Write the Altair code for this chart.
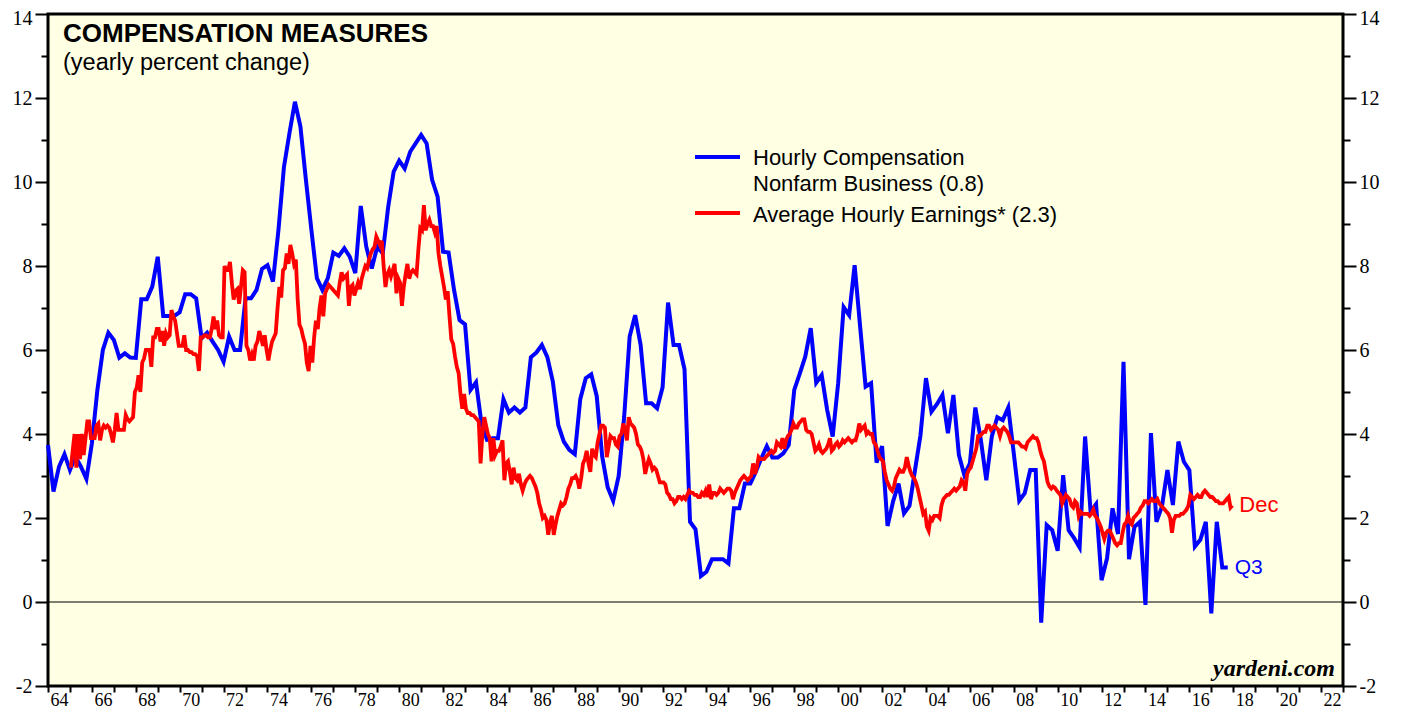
import altair as alt
import pandas as pd

# ---------------- data ----------------
# Hourly Compensation, Nonfarm Business (yearly % change), quarterly, first point plotted at 1964.0
hc_start = 1964
hourly_comp = [
    3.74, 2.63, 3.22, 3.52,
    3.14, 3.46, 3.22, 2.93,
    3.78, 5.05, 6.00, 6.41,
    6.24, 5.82, 5.92, 5.82,
    5.81, 7.21, 7.21, 7.51,
    8.22, 6.81, 6.81, 6.81,
    6.90, 7.33, 7.33, 7.23,
    6.28, 6.41, 6.20, 6.00,
    5.72, 6.32, 6.00, 6.00,
    7.23, 7.23, 7.43, 7.93,
    8.02, 7.63, 8.86, 10.36,
    11.16, 11.91, 11.32, 10.05,
    8.86, 7.71, 7.43, 7.71,
    8.32, 8.24, 8.42, 8.22,
    7.83, 9.43, 8.46, 7.94,
    8.46, 8.30, 9.41, 10.25,
    10.51, 10.32, 10.72, 10.92,
    11.12, 10.92, 10.05, 9.65,
    8.34, 8.32, 7.43, 6.71,
    6.61, 5.05, 5.23, 4.25,
    3.86, 3.90, 3.90, 4.83,
    4.51, 4.63, 4.51, 4.63,
    5.83, 5.94, 6.12, 5.83,
    5.25, 4.21, 3.82, 3.62,
    3.52, 4.83, 5.33, 5.42,
    4.90, 3.46, 2.73, 2.41,
    3.00, 4.41, 6.32, 6.83,
    6.12, 4.73, 4.73, 4.61,
    5.11, 7.13, 6.12, 6.12,
    5.54, 1.91, 1.73, 0.62,
    0.72, 1.02, 1.02, 1.02,
    0.92, 2.23, 2.23, 2.82,
    2.82, 3.10, 3.42, 3.71,
    3.44, 3.44, 3.54, 3.74,
    5.05, 5.44, 5.84, 6.52,
    5.22, 5.40, 4.57, 3.94,
    5.21, 7.02, 6.83, 8.02,
    6.56, 5.13, 5.21, 3.32,
    3.71, 1.81, 2.39, 2.82,
    2.11, 2.29, 3.14, 3.97,
    5.33, 4.53, 4.71, 4.93,
    4.02, 4.93, 3.50, 3.02,
    3.30, 4.63, 3.86, 2.90,
    3.94, 4.40, 4.33, 4.63,
    3.54, 2.41, 2.59, 3.14,
    3.14, -0.49, 1.83, 1.71,
    1.22, 3.02, 1.71, 1.52,
    1.30, 3.94, 2.15, 2.33,
    0.52, 1.04, 2.23, 1.62,
    5.72, 1.02, 1.79, 1.91,
    -0.07, 4.02, 1.91, 2.27,
    3.14, 2.31, 3.82, 3.34,
    3.14, 1.32, 1.48, 1.91,
    -0.27, 1.91, 0.82, 0.82,
]

# Average Hourly Earnings (yearly % change), monthly Jan 1965 - Dec 2017
ahe_start = 1965
ahe_by_year = [
    [3.2, 3.6, 4.0, 3.2, 4.0, 3.4, 4.0, 3.5, 3.9, 4.3, 4.3, 3.9],
    [3.9, 3.9, 4.2, 4.25, 3.85, 4.1, 4.2, 4.15, 4.2, 4.15, 4.0, 3.8],
    [4.1, 4.5, 4.1, 4.1, 4.1, 4.1, 4.45, 4.35, 4.3, 4.35, 4.4, 5.0],
    [5.1, 5.4, 5.0, 5.7, 5.8, 6.0, 6.0, 6.0, 5.6, 6.3, 6.3, 6.5],
    [6.5, 6.2, 6.45, 6.1, 6.4, 6.3, 6.35, 6.95, 6.8, 6.7, 6.4, 6.1],
    [6.1, 6.1, 6.35, 6.0, 6.0, 5.95, 5.95, 5.9, 5.9, 5.85, 5.5, 6.3],
    [6.3, 6.35, 6.35, 6.3, 6.3, 6.5, 6.8, 6.5, 6.7, 6.35, 6.3, 6.3],
    [8.0, 7.9, 7.9, 8.1, 7.6, 7.2, 7.4, 7.45, 7.1, 7.5, 7.9, 7.85],
    [6.1, 6.0, 5.75, 5.9, 5.75, 6.1, 6.2, 6.45, 6.3, 6.1, 6.35, 6.0],
    [5.75, 6.0, 6.2, 6.3, 6.4, 7.0, 7.5, 7.25, 7.9, 7.95, 8.3, 8.05],
    [8.5, 8.3, 8.05, 8.15, 7.2, 6.6, 6.5, 6.3, 6.15, 5.7, 5.5, 6.1],
    [5.7, 6.3, 6.7, 6.5, 7.0, 7.3, 6.8, 7.35, 7.45, 7.55, 7.5, 7.45],
    [7.4, 7.35, 7.3, 7.6, 7.85, 7.7, 7.75, 7.8, 7.05, 7.5, 7.55, 7.3],
    [7.45, 7.6, 7.45, 7.7, 7.85, 8.0, 7.95, 8.15, 8.3, 8.4, 8.45, 8.7],
    [8.6, 8.5, 8.6, 8.0, 7.5, 7.8, 7.9, 7.75, 7.9, 8.05, 7.35, 7.7],
    [7.6, 7.05, 7.5, 7.8, 8.05, 7.7, 7.85, 7.9, 7.85, 7.8, 8.4, 8.9],
    [8.85, 9.45, 8.85, 9.0, 9.1, 8.95, 8.95, 8.8, 8.95, 8.3, 8.0, 7.75],
    [7.5, 7.2, 7.4, 6.8, 6.25, 6.15, 5.85, 5.6, 5.45, 4.95, 4.6, 4.95],
    [4.6, 4.5, 4.5, 4.45, 4.45, 4.4, 4.35, 4.3, 3.3, 4.0, 4.4, 4.2],
    [4.0, 3.9, 3.35, 3.9, 3.5, 3.6, 3.6, 3.7, 3.85, 2.9, 3.3, 3.35],
    [3.1, 2.8, 3.2, 2.95, 2.9, 3.05, 2.8, 2.65, 2.8, 2.9, 2.95, 3.0],
    [2.95, 2.85, 2.75, 2.6, 2.35, 2.2, 2.0, 2.05, 1.95, 1.6, 1.9, 2.05],
    [1.6, 1.85, 2.05, 2.2, 2.35, 2.3, 2.35, 2.5, 2.7, 2.8, 2.95, 2.95],
    [3.0, 2.9, 2.7, 2.95, 3.3, 3.4, 3.6, 3.3, 3.1, 3.65, 3.5, 3.45],
    [3.8, 4.0, 4.2, 4.2, 4.15, 3.45, 3.7, 3.95, 3.9, 3.9, 3.75, 3.7],
    [3.95, 4.0, 4.25, 4.1, 3.85, 4.4, 4.25, 4.2, 4.15, 4.0, 3.75, 3.7],
    [3.6, 3.4, 3.05, 3.25, 3.4, 3.3, 3.15, 3.2, 3.15, 3.0, 2.85, 2.85],
    [2.85, 2.8, 2.6, 2.55, 2.45, 2.45, 2.35, 2.4, 2.5, 2.5, 2.45, 2.5],
    [2.45, 2.55, 2.65, 2.6, 2.6, 2.55, 2.55, 2.5, 2.5, 2.6, 2.55, 2.65],
    [2.5, 2.8, 2.45, 2.6, 2.6, 2.55, 2.6, 2.7, 2.65, 2.6, 2.65, 2.7],
    [2.7, 2.65, 2.45, 2.6, 2.7, 2.8, 2.9, 2.95, 3.0, 2.95, 2.9, 2.95],
    [3.0, 3.3, 3.05, 3.2, 3.45, 3.4, 3.4, 3.4, 3.45, 3.5, 3.55, 3.6],
    [3.55, 3.6, 3.8, 3.75, 3.7, 3.9, 3.65, 3.85, 3.95, 4.0, 4.1, 4.25],
    [4.15, 4.15, 4.25, 4.3, 4.35, 4.35, 4.1, 4.05, 4.05, 4.0, 3.8, 3.6],
    [3.65, 3.75, 3.6, 3.55, 3.6, 3.65, 3.75, 3.9, 3.6, 3.65, 3.75, 3.8],
    [3.7, 3.75, 3.85, 3.8, 3.85, 3.9, 3.85, 3.8, 3.85, 3.85, 4.0, 4.25],
    [4.1, 4.15, 4.2, 4.0, 4.05, 4.0, 4.0, 3.8, 3.75, 3.6, 3.45, 3.4],
    [3.35, 3.1, 2.9, 2.8, 2.7, 2.65, 2.75, 2.95, 3.05, 3.15, 3.1, 3.1],
    [3.2, 3.45, 3.25, 3.1, 3.0, 2.95, 2.85, 2.7, 2.5, 2.3, 2.1, 2.15],
    [1.8, 1.7, 2.0, 1.95, 2.05, 2.05, 2.05, 2.0, 2.3, 2.45, 2.5, 2.55],
    [2.55, 2.6, 2.65, 2.7, 2.65, 2.7, 2.75, 2.9, 2.85, 2.65, 3.05, 3.15],
    [3.2, 3.35, 3.5, 3.65, 3.95, 3.95, 4.0, 4.05, 4.05, 4.2, 4.2, 4.1],
    [4.15, 4.2, 4.15, 4.1, 3.95, 4.1, 4.15, 4.1, 4.05, 3.95, 3.8, 3.8],
    [3.8, 3.8, 3.8, 3.75, 3.7, 3.7, 3.66, 3.8, 3.85, 3.9, 3.95, 3.9],
    [3.9, 3.8, 3.6, 3.45, 3.35, 3.1, 2.85, 2.75, 2.7, 2.75, 2.72, 2.65],
    [2.6, 2.55, 2.35, 2.45, 2.55, 2.5, 2.45, 2.3, 2.25, 2.4, 2.35, 2.05],
    [2.15, 2.1, 2.1, 2.1, 2.1, 2.05, 2.1, 2.2, 2.05, 2.0, 1.9, 1.8],
    [1.65, 1.5, 1.65, 1.7, 1.7, 1.6, 1.5, 1.4, 1.35, 1.4, 1.4, 1.65],
    [1.85, 1.9, 2.05, 1.9, 1.85, 2.0, 2.05, 2.1, 2.15, 2.25, 2.3, 2.4],
    [2.4, 2.35, 2.4, 2.45, 2.4, 2.4, 2.45, 2.35, 2.3, 2.25, 2.2, 2.15],
    [2.1, 2.0, 1.65, 1.95, 2.05, 2.05, 2.05, 2.1, 2.1, 2.15, 2.2, 2.3],
    [2.55, 2.5, 2.45, 2.5, 2.55, 2.5, 2.5, 2.6, 2.65, 2.6, 2.55, 2.5],
    [2.5, 2.45, 2.4, 2.4, 2.35, 2.35, 2.35, 2.4, 2.45, 2.5, 2.25, 2.3],
]

title_text = ["COMPENSATION MEASURES"]
subtitle_text = ["(yearly percent change)"]
legend_blue = ["Hourly Compensation", "Nonfarm Business (0.8)"]
legend_red = ["Average Hourly Earnings* (2.3)"]
end_labels = ["Q3", "Dec"]
source_text = ["yardeni.com"]
x_domain = [1964, 2023]
y_domain = [-2, 14]

BLUE = "#0000FF"
RED = "#FF0000"
BG = "#FFFFE3"

# ---------------- frames ----------------
blue_df = pd.DataFrame({
    "t": [hc_start + i / 4 for i in range(len(hourly_comp))],
    "v": hourly_comp,
})
ahe_flat = [v for row in ahe_by_year for v in row]
red_df = pd.DataFrame({
    "t": [ahe_start + (i + 0.5) / 12 for i in range(len(ahe_flat))],
    "v": ahe_flat,
})
blue_end = pd.DataFrame({"t": [blue_df["t"].iloc[-1]], "v": [blue_df["v"].iloc[-1]], "lab": [end_labels[0]]})
red_end = pd.DataFrame({"t": [red_df["t"].iloc[-1]], "v": [red_df["v"].iloc[-1]], "lab": [end_labels[1]]})

W, H = 1295, 672
xs = alt.Scale(domain=x_domain, nice=False, zero=False)
ys = alt.Scale(domain=y_domain, nice=False, zero=False)

x_axis = alt.Axis(
    title=None, values=list(range(x_domain[0], x_domain[1] + 1)),
    labelExpr="(datum.value % 2 == 0 && datum.value < 2023) ? substring(toString(datum.value), 2, 4) : ''",
    labelOffset=11, labelFont="Liberation Serif", labelFontSize=18, labelColor="black",
    tickColor="black", tickWidth=2, tickSize=6, domain=False, grid=False,
    labelFlush=False, labelOverlap=False, labelPadding=-1,
)


def y_axis(orient):
    return alt.Axis(
        title=None, orient=orient, values=list(range(y_domain[0], y_domain[1] + 1)),
        labelExpr="datum.value % 2 == 0 ? toString(datum.value) : ''",
        labelFont="Liberation Serif", labelFontSize=20, labelColor="black",
        labelOffset={"condition": {"test": "datum.value == 14", "value": 4}, "value": 0},
        tickColor="black", tickWidth=2,
        tickSize={"condition": {"test": "datum.value % 2 == 0", "value": 13}, "value": 7},
        domain=False, grid=False, labelOverlap=False, labelFlush=False, labelPadding=3,
    )


X = alt.X("t:Q", scale=xs, axis=x_axis)

zero_rule = alt.Chart(pd.DataFrame({"v": [0]})).mark_rule(color="black", strokeWidth=1.2).encode(
    y=alt.Y("v:Q", scale=ys, axis=None)
)

blue_line = alt.Chart(blue_df).mark_line(color=BLUE, strokeWidth=4).encode(
    x=X, y=alt.Y("v:Q", scale=ys, axis=y_axis("left"))
)
red_line = alt.Chart(red_df).mark_line(color=RED, strokeWidth=3.8).encode(
    x=X, y=alt.Y("v:Q", scale=ys, axis=y_axis("right"))
)

blue_lab = alt.Chart(blue_end).mark_text(
    align="left", baseline="middle", dx=7, font="Liberation Sans", fontSize=21, color=BLUE
).encode(x=X, y=alt.Y("v:Q", scale=ys, axis=None), text="lab:N")
red_lab = alt.Chart(red_end).mark_text(
    align="left", baseline="middle", dx=7, font="Liberation Sans", fontSize=22, color=RED
).encode(x=X, y=alt.Y("v:Q", scale=ys, axis=None), text="lab:N")

title = alt.Chart(pd.DataFrame({"s": title_text})).mark_text(
    align="left", baseline="alphabetic", font="Liberation Sans", fontSize=26, fontWeight="bold", color="black"
).encode(x=alt.value(15), y=alt.value(28), text="s:N")
subtitle = alt.Chart(pd.DataFrame({"s": subtitle_text})).mark_text(
    align="left", baseline="alphabetic", font="Liberation Sans", fontSize=23.5, color="black"
).encode(x=alt.value(15), y=alt.value(56), text="s:N")

leg_font = dict(align="left", baseline="alphabetic", font="Liberation Sans", fontSize=22, color="black")
leg_b1 = alt.Chart(pd.DataFrame({"s": [legend_blue[0]]})).mark_text(**leg_font).encode(
    x=alt.value(705), y=alt.value(151), text="s:N")
leg_b2 = alt.Chart(pd.DataFrame({"s": [legend_blue[1]]})).mark_text(**leg_font).encode(
    x=alt.value(705), y=alt.value(177), text="s:N")
leg_r1 = alt.Chart(pd.DataFrame({"s": legend_red})).mark_text(**leg_font).encode(
    x=alt.value(705), y=alt.value(208), text="s:N")
leg_bl = alt.Chart(pd.DataFrame({"k": [0]})).mark_rule(color=BLUE, strokeWidth=4).encode(
    x=alt.value(647), x2=alt.value(692), y=alt.value(143))
leg_rl = alt.Chart(pd.DataFrame({"k": [0]})).mark_rule(color=RED, strokeWidth=4).encode(
    x=alt.value(647), x2=alt.value(692), y=alt.value(199))

source = alt.Chart(pd.DataFrame({"s": source_text})).mark_text(
    align="right", baseline="alphabetic", font="Liberation Serif", fontSize=24,
    fontStyle="italic", fontWeight="bold", color="black"
).encode(x=alt.value(1287), y=alt.value(662), text="s:N")

chart = alt.layer(
    zero_rule, blue_line, red_line, blue_lab, red_lab,
    title, subtitle, leg_bl, leg_rl, leg_b1, leg_b2, leg_r1, source,
).resolve_axis(y="independent").properties(
    width=W, height=H,
    autosize=alt.AutoSizeParams(type="none"),
    padding={"left": 40, "top": 6, "right": 52, "bottom": 23},
    background="white",
).configure_view(
    fill=BG, stroke="black", strokeWidth=3,
)

chart.save("out.html", embed_options={"renderer": "svg", "actions": False})
